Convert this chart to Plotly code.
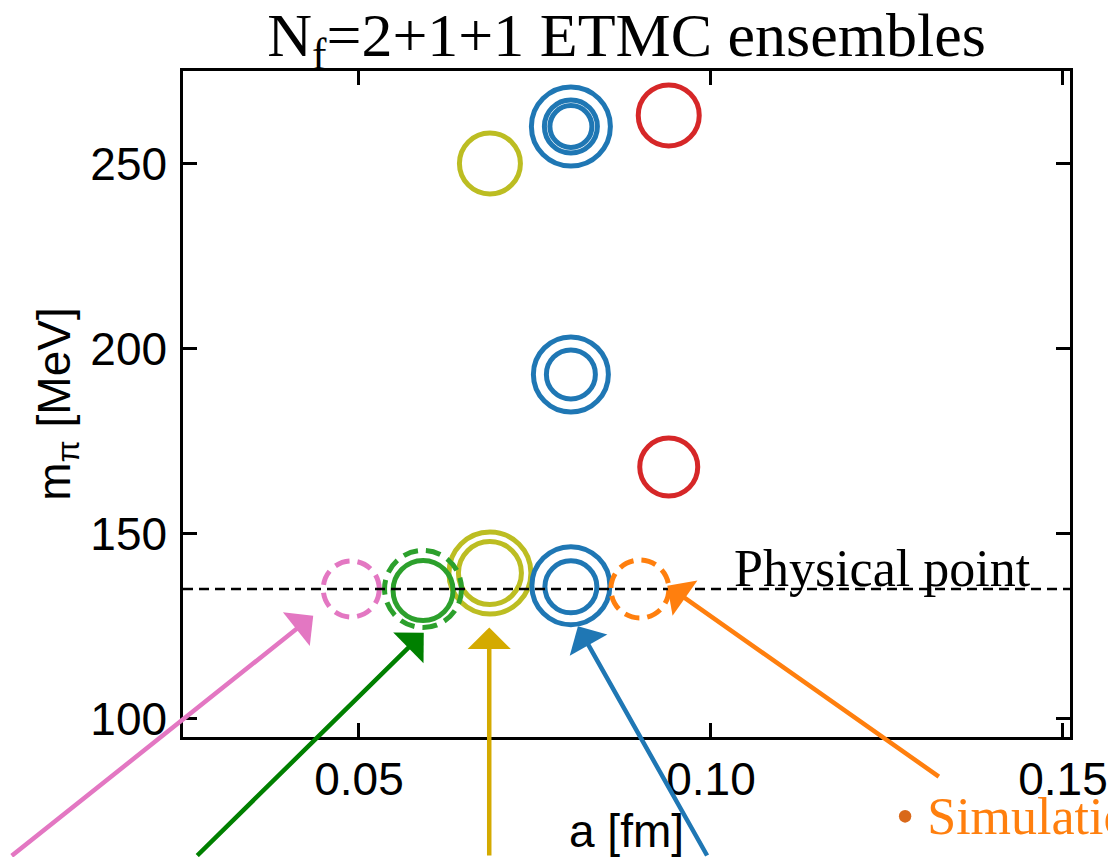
import plotly.graph_objects as go

# Lattice spacing a [fm] and pion mass m_pi [MeV] of the ensembles (solid rings)
ring_a = [0.0801, 0.0801, 0.0801, 0.0940, 0.0686,
          0.0801, 0.0801, 0.0940,
          0.0686, 0.0686, 0.0801, 0.0801, 0.0591]
ring_m = [260.0, 260.0, 260.0, 263.0, 250.0,
          193.0, 193.0, 168.0,
          139.3, 139.3, 135.9, 135.6, 134.6]
ring_color = ["#1f77b4", "#1f77b4", "#1f77b4", "#d62728", "#bcbd22",
              "#1f77b4", "#1f77b4", "#d62728",
              "#bcbd22", "#bcbd22", "#1f77b4", "#1f77b4", "#2ca02c"]
ring_px = [79, 53, 42, 61, 61,
           75, 49, 58,
           82, 63, 78, 52, 60]

# Physical-point simulations (dashed rings)
dashed_a = [0.0489, 0.0591, 0.0899]
dashed_m = [135.0, 135.0, 135.0]
dashed_color = ["#e377c2", "#2ca02c", "#ff7f0e"]
dashed_px = [56, 77, 58]

# Physical pion mass
m_phys = 135.0

# Arrow tips (a, m_pi) and colours
arrow_a = [0.0435, 0.0592, 0.0685, 0.0811, 0.0938]
arrow_m = [127.8, 123.2, 124.6, 124.9, 135.9]
arrow_color = ["#e377c2", "#008000", "#d4aa00", "#1f77b4", "#ff7f0e"]
arrow_tail = [(-303, 245), (-228, 228), (0, 233), (130, 234), (273, 192)]

x_ticks = [0.05, 0.10, 0.15]
y_ticks = [100, 150, 200, 250]

sans = "Liberation Sans"
serif = "Liberation Serif"

fig = go.Figure()

fig.add_trace(go.Scatter(
    x=ring_a, y=ring_m, mode="markers",
    marker=dict(symbol="circle-open", size=ring_px, color=ring_color, opacity=1,
                line=dict(width=5, color=ring_color)),
    hoverinfo="x+y", showlegend=False,
))

shapes = []
for a, m, c, d in zip(dashed_a, dashed_m, dashed_color, dashed_px):
    r = d / 2
    shapes.append(dict(
        type="circle", xref="x", yref="y",
        xsizemode="pixel", ysizemode="pixel",
        xanchor=a, yanchor=m, x0=-r, x1=r, y0=-r, y1=r,
        line=dict(color=c, width=5, dash="15px,8px"),
        layer="above",
    ))

# horizontal dashed line at the physical point
shapes.append(dict(
    type="line", xref="paper", yref="y", x0=0, x1=1, y0=m_phys, y1=m_phys,
    line=dict(color="black", width=2.5, dash="10px,6px"), layer="above",
))

annotations = [
    dict(x=0.1458, y=m_phys, xref="x", yref="y", text="Physical point",
         showarrow=False, xanchor="right", yanchor="bottom", yshift=-10,
         font=dict(family=serif, size=52, color="black")),
    dict(x=0.802, y=-0.119, xref="paper", yref="paper",
         text="<span style='color:#d9691a'>•</span> Simulations at the physical point",
         showarrow=False, xanchor="left", yanchor="middle",
         font=dict(family=serif, size=52, color="#ff7f0e")),
]
for a, m, c, (dx, dy) in zip(arrow_a, arrow_m, arrow_color, arrow_tail):
    annotations.append(dict(
        x=a, y=m, xref="x", yref="y", ax=dx, ay=dy, axref="pixel", ayref="pixel",
        text="", showarrow=True, arrowhead=1, arrowsize=1.6, arrowwidth=4.5,
        arrowcolor=c,
    ))

axis_common = dict(
    showline=True, linewidth=2.5, linecolor="black", mirror="allticks",
    ticks="inside", ticklen=14, tickwidth=2.5, tickcolor="black",
    showgrid=False, zeroline=False, automargin=False,
    tickfont=dict(family=sans, size=46, color="black"),
)

fig.update_layout(
    width=1108, height=857,
    margin=dict(l=183, r=38, t=71, b=120, autoexpand=False),
    paper_bgcolor="white", plot_bgcolor="white",
    title=dict(text="N<sub>f</sub>=2+1+1 ETMC ensembles",
               font=dict(family=serif, size=62, color="black"),
               x=0.5, xref="paper", xanchor="center",
               y=0.96, yref="container", yanchor="middle"),
    xaxis=dict(range=[0.025, 0.151], tickvals=x_ticks, tickformat=".2f",
               ticklabeloverflow="allow",
               title=dict(text="a [fm]", font=dict(family=sans, size=46, color="black"),
                          standoff=8),
               **axis_common),
    yaxis=dict(range=[95, 275], tickvals=y_ticks, ticklabelstandoff=4,
               title=dict(text="m<sub>π</sub> [MeV]", font=dict(family=sans, size=46, color="black"),
                          standoff=6),
               **axis_common),
    shapes=shapes,
    annotations=annotations,
)

fig.write_html("out.html")
